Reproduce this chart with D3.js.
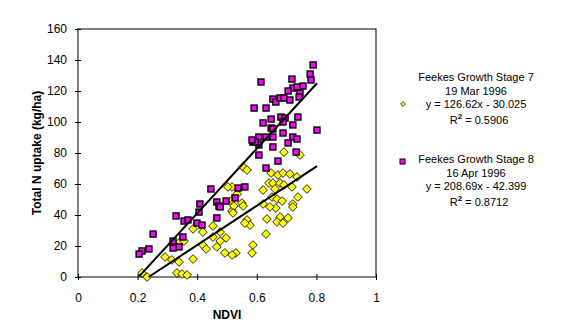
<!DOCTYPE html>
<html>
<head>
<meta charset="utf-8">
<script src="https://cdn.jsdelivr.net/npm/d3@7"></script>
<style>
  body { margin: 0; background: #fff; }
  svg { font-family: "Liberation Sans", Arial, sans-serif; }
</style>
</head>
<body>
<div id="chart"></div>
<script>
// Feekes growth stage 7 (19 Mar 1996) - yellow diamonds
var stage7X = [0.691, 0.745, 0.554, 0.567, 0.648, 0.671, 0.688, 0.711, 0.735, 0.641,
    0.654, 0.678, 0.691, 0.621, 0.661, 0.718, 0.768, 0.651, 0.668, 0.685,
    0.738, 0.721, 0.621, 0.517, 0.550, 0.517, 0.664, 0.678, 0.705, 0.668,
    0.688, 0.634, 0.631, 0.587, 0.584, 0.517, 0.554, 0.644, 0.721, 0.567,
    0.577, 0.560, 0.530, 0.517, 0.503, 0.534, 0.523, 0.520, 0.453, 0.477,
    0.497, 0.453, 0.419, 0.477, 0.419, 0.430, 0.466, 0.493, 0.342, 0.356,
    0.292, 0.315, 0.339, 0.386, 0.332, 0.349, 0.366, 0.215, 0.232, 0.386];
var stage7Y = [80.6, 78.7, 71.0, 69.0, 67.1, 65.8, 67.1, 66.5, 64.5, 60.6,
    60.6, 60.6, 59.4, 56.1, 56.8, 58.1, 56.8, 51.6, 50.3, 49.0,
    51.6, 47.1, 47.1, 58.1, 47.7, 49.7, 44.5, 38.7, 38.1, 35.5,
    34.8, 37.4, 27.7, 20.6, 15.5, 42.6, 45.8, 45.2, 45.2, 36.8,
    33.5, 34.8, 15.5, 14.2, 58.1, 53.5, 45.8, 41.3, 32.9, 29.0,
    25.2, 25.8, 29.0, 23.2, 20.6, 18.1, 19.4, 15.5, 22.6, 23.2,
    12.9, 11.0, 9.7, 11.6, 2.6, 1.9, 1.3, 2.6, 0.0, 31.0];

// Feekes growth stage 8 (16 Apr 1996) - magenta squares
var stage8X = [0.789, 0.779, 0.782, 0.614, 0.718, 0.721, 0.705, 0.735, 0.755, 0.745,
    0.654, 0.664, 0.678, 0.691, 0.711, 0.742, 0.591, 0.631, 0.681, 0.695,
    0.688, 0.738, 0.648, 0.621, 0.721, 0.648, 0.654, 0.802, 0.607, 0.631,
    0.654, 0.688, 0.721, 0.735, 0.587, 0.607, 0.654, 0.705, 0.732, 0.607,
    0.631, 0.671, 0.537, 0.560, 0.527, 0.446, 0.466, 0.473, 0.497, 0.409,
    0.406, 0.329, 0.356, 0.369, 0.399, 0.416, 0.466, 0.477, 0.252, 0.352,
    0.319, 0.339, 0.319, 0.238, 0.215, 0.205, 0.594, 0.584];
var stage8Y = [136.8, 131.0, 127.1, 125.8, 127.7, 121.9, 120.0, 122.6, 123.2, 118.7,
    114.8, 112.9, 115.5, 115.5, 114.2, 116.1, 109.0, 109.0, 103.2, 102.6,
    100.0, 103.2, 101.9, 99.4, 98.1, 96.1, 95.5, 94.8, 90.3, 90.3,
    90.3, 92.9, 90.3, 89.0, 87.1, 85.2, 83.9, 86.5, 80.6, 78.7,
    70.3, 74.8, 57.4, 58.1, 51.0, 56.8, 48.4, 45.8, 49.0, 47.1,
    41.9, 39.4, 36.1, 36.8, 34.8, 33.5, 38.1, 45.2, 27.7, 25.8,
    23.2, 19.4, 18.7, 18.1, 16.8, 14.8, 87.1, 88.4];

var seriesNames = ["Feekes Growth Stage 7", "Feekes Growth Stage 8"];
var seriesDates = ["19 Mar 1996", "16 Apr 1996"];
var slopes = [126.62, 208.69];
var intercepts = [-30.025, -42.399];
var rSquared = ["0.5906", "0.8712"];

var xTicks = [0, 0.2, 0.4, 0.6, 0.8, 1];
var yTicks = [0, 20, 40, 60, 80, 100, 120, 140, 160];

var w = 576;
var h = 330;

var svg = d3.select("#chart").append("svg").attr("width", w).attr("height", h);

var xScale = d3.scaleLinear().domain([0, 1]).range([78, 376]);
var yScale = d3.scaleLinear().domain([0, 160]).range([277, 29]);

// plot frame
svg.append("rect")
    .attr("x", xScale(0)).attr("y", yScale(160))
    .attr("width", xScale(1) - xScale(0)).attr("height", yScale(0) - yScale(160))
    .attr("fill", "none").attr("stroke", "black").attr("stroke-width", 1);

// axes with ticks crossing the line
var xAxis = d3.axisBottom(xScale).tickValues(xTicks).tickSize(3).tickPadding(13)
    .tickFormat(function (d) { return d === 0 || d === 1 ? d : String(d).replace(/^0/, "0"); });
var gx = svg.append("g").attr("transform", "translate(0," + yScale(0) + ")").call(xAxis);
gx.select(".domain").remove();
gx.selectAll(".tick line").attr("y1", -3).attr("y2", 3).attr("stroke", "black");
gx.selectAll("text").attr("font-size", "12px").attr("fill", "black").attr("font-family", null);

var yAxis = d3.axisLeft(yScale).tickValues(yTicks).tickSize(3).tickPadding(8);
var gy = svg.append("g").attr("transform", "translate(" + xScale(0) + ",0)").call(yAxis);
gy.select(".domain").remove();
gy.selectAll(".tick line").attr("x1", 3).attr("x2", -3).attr("stroke", "black");
gy.selectAll("text").attr("font-size", "12px").attr("fill", "black").attr("font-family", null);

// axis titles
svg.append("text")
    .attr("transform", "translate(41," + (yScale(80)) + ") rotate(-90)")
    .attr("text-anchor", "middle")
    .attr("font-size", "12px").attr("font-weight", "bold")
    .text("Total N uptake (kg/ha)");

svg.append("text")
    .attr("x", xScale(0.5)).attr("y", 319)
    .attr("text-anchor", "middle")
    .attr("font-size", "12px").attr("font-weight", "bold")
    .text("NDVI");

// points
var diamond = d3.symbol().type(d3.symbolSquare).size(38);

svg.append("g").selectAll("path")
    .data(d3.range(stage7X.length))
    .enter()
    .append("path")
    .attr("d", diamond)
    .attr("transform", function (i) {
        return "translate(" + xScale(stage7X[i]) + "," + yScale(stage7Y[i]) + ") rotate(45)";
    })
    .attr("fill", "#ffff00")
    .attr("stroke", "black")
    .attr("stroke-width", 0.8);

svg.append("g").selectAll("rect")
    .data(d3.range(stage8X.length))
    .enter()
    .append("rect")
    .attr("x", function (i) { return xScale(stage8X[i]) - 3; })
    .attr("y", function (i) { return yScale(stage8Y[i]) - 3; })
    .attr("width", 6)
    .attr("height", 6)
    .attr("fill", "#ff00ff")
    .attr("stroke", "black")
    .attr("stroke-width", 1.4);

// linear trend lines over the data's x range, cut at y = 0
var allX = stage7X.concat(stage8X);
var xr = d3.extent(allX);
for (var s = 0; s < 2; s++) {
    var x0 = Math.max(xr[0], -intercepts[s] / slopes[s]);
    var x1 = xr[1];
    svg.append("line")
        .attr("x1", xScale(x0)).attr("y1", yScale(slopes[s] * x0 + intercepts[s]))
        .attr("x2", xScale(x1)).attr("y2", yScale(slopes[s] * x1 + intercepts[s]))
        .attr("stroke", "black").attr("stroke-width", 2);
}

// legend
var legX = 476;
var legTop = [81, 163];
for (var k = 0; k < 2; k++) {
    var lines = [seriesNames[k], seriesDates[k],
        "y = " + slopes[k].toFixed(2) + "x - " + Math.abs(intercepts[k]).toFixed(3)];
    lines.forEach(function (t, j) {
        svg.append("text")
            .attr("x", legX).attr("y", legTop[k] + j * 13.5)
            .attr("text-anchor", "middle")
            .attr("font-size", "11px")
            .text(t);
    });
    var r2 = svg.append("text")
        .attr("x", legX + 3).attr("y", legTop[k] + 43)
        .attr("text-anchor", "middle")
        .attr("font-size", "11px");
    r2.append("tspan").text("R");
    r2.append("tspan").attr("font-size", "8px").attr("font-weight", "bold").attr("dy", -5).text("2");
    r2.append("tspan").attr("dy", 5).text(" = " + rSquared[k]);
}

svg.append("path")
    .attr("d", d3.symbol().type(d3.symbolSquare).size(12))
    .attr("transform", "translate(403," + (legTop[0] + 23) + ") rotate(45)")
    .attr("fill", "#ffff00").attr("stroke", "black").attr("stroke-width", 0.7);

svg.append("rect")
    .attr("x", 400).attr("y", legTop[1] - 4).attr("width", 5).attr("height", 5)
    .attr("fill", "#ff00ff").attr("stroke", "black").attr("stroke-width", 1);
</script>
</body>
</html>
